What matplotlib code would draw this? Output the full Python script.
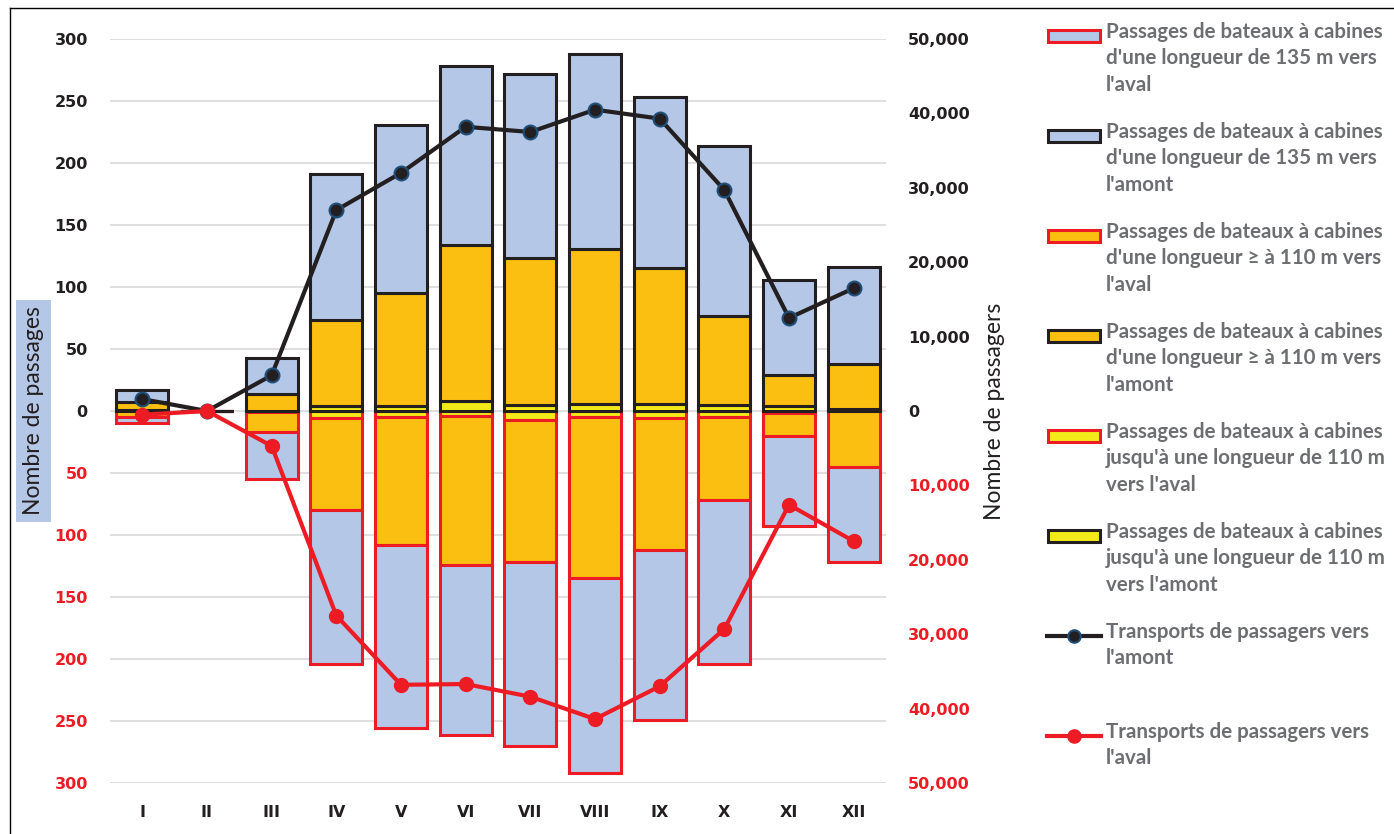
import numpy as np
import matplotlib.pyplot as plt
from matplotlib.patches import Rectangle
from matplotlib.lines import Line2D

mois = ['I', 'II', 'III', 'IV', 'V', 'VI', 'VII', 'VIII', 'IX', 'X', 'XI', 'XII']

# passages vers l'amont (nombre de bateaux)
amont_110 = [1, 0, 0, 4, 4, 8, 5, 6, 6, 5, 4, 2]
amont_sup110 = [6, 0, 14, 69, 91, 126, 118, 125, 109, 72, 25, 36]
amont_135 = [10, 0, 29, 118, 136, 144, 149, 157, 138, 137, 77, 78]

# passages vers l'aval (nombre de bateaux)
aval_110 = [0, 0, 1, 6, 5, 4, 7, 5, 6, 5, 2, 0]
aval_sup110 = [5, 0, 16, 74, 103, 120, 115, 130, 106, 67, 18, 45]
aval_135 = [5, 0, 38, 124, 148, 137, 148, 157, 137, 132, 73, 77]

# transports de passagers
pass_amont = [1600, 0, 4800, 27000, 32000, 38200, 37500, 40500, 39300, 29700, 12500, 16500]
pass_aval = [500, 0, 4700, 27500, 36800, 36700, 38400, 41400, 37000, 29300, 12600, 17500]

legende = [
    "Passages de bateaux à cabines\nd'une longueur de 135 m vers\nl'aval",
    "Passages de bateaux à cabines\nd'une longueur de 135 m vers\nl'amont",
    "Passages de bateaux à cabines\nd'une longueur ≥ à 110 m vers\nl'aval",
    "Passages de bateaux à cabines\nd'une longueur ≥ à 110 m vers\nl'amont",
    "Passages de bateaux à cabines\njusqu'à une longueur de 110 m\nvers l'aval",
    "Passages de bateaux à cabines\njusqu'à une longueur de 110 m\nvers l'amont",
    "Transports de passagers vers\nl'amont",
    "Transports de passagers vers\nl'aval",
]

BLEU = '#b4c7e7'
ORANGE = '#fbbf12'
JAUNE = '#f3ea1a'
ROUGE = '#ed1c24'
NOIR = '#231f20'
GRIS = '#6d6e71'

x = np.arange(len(mois))
w = 0.8
lw = 2.2

fig = plt.figure(figsize=(13.94, 8.34), dpi=100)
ax = fig.add_axes([110 / 1394, 51 / 834, 776 / 1394, 744 / 834])

a110 = np.array(amont_110)
asup = np.array(amont_sup110)
a135 = np.array(amont_135)
v110 = np.array(aval_110)
vsup = np.array(aval_sup110)
v135 = np.array(aval_135)

# aval d'abord (vers le bas), puis amont par-dessus
ax.bar(x, -v110, w, color=JAUNE, edgecolor=ROUGE, linewidth=lw, zorder=2)
ax.bar(x, -vsup, w, bottom=-v110, color=ORANGE, edgecolor=ROUGE, linewidth=lw, zorder=2)
ax.bar(x, -v135, w, bottom=-(v110 + vsup), color=BLEU, edgecolor=ROUGE, linewidth=lw, zorder=2)

ax.bar(x, a110, w, color=JAUNE, edgecolor=NOIR, linewidth=lw, zorder=3)
ax.bar(x, asup, w, bottom=a110, color=ORANGE, edgecolor=NOIR, linewidth=lw, zorder=3)
ax.bar(x, a135, w, bottom=a110 + asup, color=BLEU, edgecolor=NOIR, linewidth=lw, zorder=3)

ax.set_xlim(-0.5, len(mois) - 0.5)
ax.set_ylim(-300, 300)
yt = np.arange(-300, 301, 50)
ax.set_yticks(yt)
ax.set_yticklabels([str(abs(v)) for v in yt])
for v, lab in zip(yt, ax.get_yticklabels()):
    lab.set_color(ROUGE if v < 0 else NOIR)
    lab.set_fontweight('bold')
    lab.set_fontsize(11.5)
ax.set_xticks(x)
ax.set_xticklabels(mois, fontweight='bold', fontsize=11.5, color=NOIR)
ax.tick_params(axis='y', length=0, pad=16)
ax.tick_params(axis='x', length=0, pad=16)
ax.grid(axis='y', color='#d9d9d9', linewidth=1.2, zorder=0)
ax.set_axisbelow(True)
for s in ax.spines.values():
    s.set_visible(False)

ax.set_ylabel('Nombre de passages', fontsize=16.5, family='Lato', color=NOIR,
              bbox=dict(boxstyle='square,pad=0.3', facecolor=BLEU, edgecolor='none'))
ax.yaxis.set_label_coords(-0.085, 0.5)

# axe des passagers
ax2 = ax.twinx()
ax2.set_ylim(-50000, 50000)
ax2.plot(x, pass_amont, color=NOIR, linewidth=3, marker='o', markersize=10,
         markerfacecolor=NOIR, markeredgecolor='#1f4e79', markeredgewidth=1.5, zorder=4)
ax2.plot(x, -np.array(pass_aval), color=ROUGE, linewidth=3, marker='o', markersize=10,
         markerfacecolor=ROUGE, markeredgecolor=ROUGE, zorder=5)
yt2 = np.arange(-50000, 50001, 10000)
ax2.set_yticks(yt2)
ax2.set_yticklabels(['{:,}'.format(abs(v)) for v in yt2])
for v, lab in zip(yt2, ax2.get_yticklabels()):
    lab.set_color(ROUGE if v < 0 else NOIR)
    lab.set_fontweight('bold')
    lab.set_fontsize(11.5)
ax2.tick_params(axis='y', length=0, pad=16)
for s in ax2.spines.values():
    s.set_visible(False)
ax2.set_ylabel('Nombre de passagers', fontsize=16.5, family='Lato', color=NOIR)
ax2.yaxis.set_label_coords(1.126, 0.5)

# légende faite à la main (symbole aligné sur la première ligne)
styles = [
    ('bar', BLEU, ROUGE), ('bar', BLEU, NOIR),
    ('bar', ORANGE, ROUGE), ('bar', ORANGE, NOIR),
    ('bar', JAUNE, ROUGE), ('bar', JAUNE, NOIR),
    ('line', NOIR, '#1f4e79'), ('line', ROUGE, ROUGE),
]
W, H = 1394.0, 834.0
for i, (kind, c1, c2) in enumerate(styles):
    yc = 36 + 100 * i
    if kind == 'bar':
        fig.add_artist(Rectangle((1048 / W, 1 - (yc + 6) / H), 52 / W, 12 / H,
                                 facecolor=c1, edgecolor=c2, linewidth=2.2,
                                 transform=fig.transFigure))
    else:
        fig.add_artist(Line2D([1047 / W, 1101 / W], [1 - yc / H] * 2, color=c1,
                              linewidth=3, transform=fig.transFigure))
        fig.add_artist(Line2D([1074 / W], [1 - yc / H], marker='o', markersize=9,
                              color=c1, markeredgecolor=c2, markeredgewidth=1.5,
                              transform=fig.transFigure))
    fig.text(1106 / W, 1 - (yc - 14) / H, legende[i], fontsize=14.8, family='Lato',
             fontweight='bold', color=GRIS, va='top', ha='left', linespacing=1.4)

# cadre
fig.add_artist(Line2D([10 / W, 1], [1 - 7.5 / H] * 2, color='black', linewidth=1))
fig.add_artist(Line2D([10 / W] * 2, [0, 1 - 7.5 / H], color='black', linewidth=1))

plt.savefig('out.png', dpi=100)
